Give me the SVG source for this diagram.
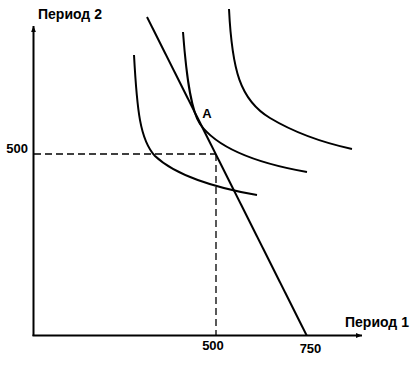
<svg xmlns="http://www.w3.org/2000/svg" width="420" height="367" viewBox="0 0 420 367">
<defs>
<style>
.ln{fill:none;stroke:#000;stroke-width:2;stroke-linecap:butt}
.ds{fill:none;stroke:#000;stroke-width:1.3;stroke-dasharray:7 4}
.t{font-family:"Liberation Sans",Arial,sans-serif;font-weight:bold;fill:#000}
</style>
<marker id="ah" viewBox="0 0 10 8" refX="10" refY="4" markerWidth="6" markerHeight="5" markerUnits="userSpaceOnUse" orient="auto">
<path d="M0,0 L10,4 L0,8 Z" fill="#000"/>
</marker>
</defs>
<rect width="420" height="367" fill="#fff"/>
<g id="axes">
<line class="ln" x1="33.5" y1="336" x2="33.5" y2="26" marker-end="url(#ah)"/>
<line class="ln" x1="32.5" y1="335.5" x2="362" y2="335.5" marker-end="url(#ah)"/>
</g>
<g id="guides">
<line class="ds" x1="34" y1="154" x2="216" y2="154"/>
<line class="ds" x1="216" y1="154" x2="216" y2="335"/>
</g>
<g id="curves">
<path class="ln" d="M134,55 C137,110 140,140 155,156 C175,175 215,188 257,195"/>
<path class="ln" d="M183,32 C187,85 192,112 200,124 C215,145 250,162 307,172"/>
<path class="ln" d="M229,9 C232,70 240,100 270,118 C295,133 320,142 352,149"/>
</g>
<g id="budget">
<line class="ln" x1="147" y1="17" x2="306.7" y2="335.5"/>
</g>
<g id="labels">
<text class="t" x="38" y="19" font-size="14">Период 2</text>
<text class="t" x="345" y="327" font-size="14">Период 1</text>
<text class="t" x="28" y="153" font-size="13" text-anchor="end">500</text>
<text class="t" x="213" y="350" font-size="13" text-anchor="middle">500</text>
<text class="t" x="310.5" y="353" font-size="13" text-anchor="middle">750</text>
<text class="t" x="207" y="117.5" font-size="13" text-anchor="middle">A</text>
</g>
</svg>
